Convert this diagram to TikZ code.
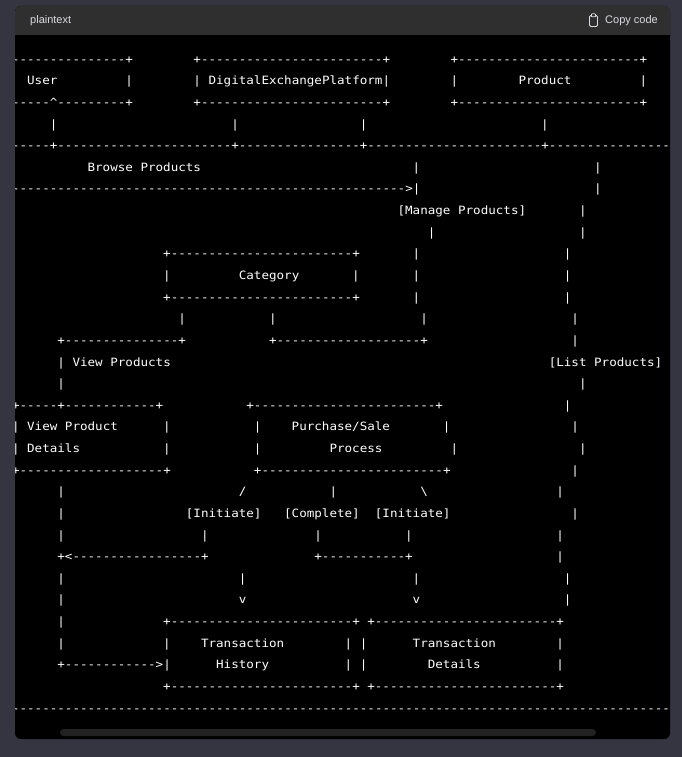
\documentclass[tikz,border=0pt]{standalone}
\usepackage{fontspec}
\setmainfont{Liberation Sans}
\setmonofont[FakeStretch=1.1]{DejaVu Sans Mono}

\definecolor{pagebg}{RGB}{52,53,65}
\definecolor{headbg}{RGB}{47,47,47}
\definecolor{headtext}{RGB}{217,217,227}
\definecolor{thumb}{RGB}{34,34,34}

% run of #1 copies of the character #2
\ExplSyntaxOn
\cs_new:Npn \chrun #1#2 { \prg_replicate:nn {#1} {#2} }
\ExplSyntaxOff

\tikzset{
  code/.style={font=\ttfamily\fontsize{11.42}{13}\selectfont, text=white,
    inner sep=0pt, anchor=base west},
  ui/.style={font=\fontsize{11}{13}\selectfont, text=headtext,
    inner sep=0pt, anchor=base west},
}
% text at row #1, character column #2
\newcommand\asc[3]{\node[code] (r#1c#2) at ({11.82+#2*7.56},{63.2+(#1-1)*21.63}) {#3};}

\begin{document}
\begin{tikzpicture}[x=1pt,y=-1pt]
\useasboundingbox (0,0) rectangle (682,757);
\fill[pagebg] (0,0) rectangle (682,757);

% code panel with its header bar
\fill[black, rounded corners=6] (15,6) rectangle (670,739);
\fill[headbg, rounded corners=6] (15,6) rectangle (670,42);
\fill[black] (15,35) rectangle (670,45);

\node[ui] (lang) at (30,24) {plaintext};
\node[ui] (copy) at (605,24) {Copy code};
\draw[headtext, line width=0.9, rounded corners=1.2] (589.5,15.5) rectangle (597.5,26.5);
\filldraw[draw=headtext, fill=headbg, line width=0.8, rounded corners=0.6] (591.5,13.8) rectangle (595.5,16.8);

% horizontal scrollbar thumb
\fill[thumb, rounded corners=3.5] (60,729) rectangle (596,736);

\begin{scope}
\clip (15,35) rectangle (670,739);
% row 1-3: User, DigitalExchangePlatform, Product
\asc{1}{0}{\chrun{15}{-}+}
\asc{1}{24}{+\chrun{24}{-}+}
\asc{1}{58}{+\chrun{24}{-}+}
\asc{2}{2}{User}
\asc{2}{15}{|}
\asc{2}{24}{| DigitalExchangePlatform|}
\asc{2}{58}{|}
\asc{2}{67}{Product}
\asc{2}{83}{|}
\asc{3}{0}{\chrun{5}{-}\textasciicircum\chrun{9}{-}+}
\asc{3}{24}{+\chrun{24}{-}+}
\asc{3}{58}{+\chrun{24}{-}+}
% row 4-9
\asc{4}{5}{|}
\asc{4}{29}{|}
\asc{4}{46}{|}
\asc{4}{70}{|}
\asc{5}{0}{\chrun{5}{-}+\chrun{23}{-}+\chrun{16}{-}+\chrun{23}{-}+\chrun{17}{-}}
\asc{6}{10}{Browse Products}
\asc{6}{53}{|}
\asc{6}{77}{|}
\asc{7}{0}{\chrun{52}{-}>|}
\asc{7}{77}{|}
\asc{8}{51}{[Manage Products]}
\asc{8}{75}{|}
\asc{9}{55}{|}
\asc{9}{75}{|}
% row 10-16: Category
\asc{10}{20}{+\chrun{24}{-}+}
\asc{10}{53}{|}
\asc{10}{73}{|}
\asc{11}{20}{|}
\asc{11}{30}{Category}
\asc{11}{45}{|}
\asc{11}{53}{|}
\asc{11}{73}{|}
\asc{12}{20}{+\chrun{24}{-}+}
\asc{12}{53}{|}
\asc{12}{73}{|}
\asc{13}{22}{|}
\asc{13}{34}{|}
\asc{13}{54}{|}
\asc{13}{74}{|}
\asc{14}{6}{+\chrun{15}{-}+}
\asc{14}{34}{+\chrun{19}{-}+}
\asc{14}{74}{|}
\asc{15}{6}{| View Products}
\asc{15}{71}{[List Products]}
\asc{16}{6}{|}
\asc{16}{75}{|}
% row 17-20: View Product Details, Purchase/Sale Process
\asc{17}{0}{+\chrun{5}{-}+\chrun{12}{-}+}
\asc{17}{31}{+\chrun{24}{-}+}
\asc{17}{73}{|}
\asc{18}{0}{| View Product}
\asc{18}{20}{|}
\asc{18}{32}{|}
\asc{18}{37}{Purchase/Sale}
\asc{18}{57}{|}
\asc{18}{74}{|}
\asc{19}{0}{| Details}
\asc{19}{20}{|}
\asc{19}{32}{|}
\asc{19}{42}{Process}
\asc{19}{58}{|}
\asc{19}{75}{|}
\asc{20}{0}{+\chrun{19}{-}+}
\asc{20}{32}{+\chrun{24}{-}+}
\asc{20}{74}{|}
% row 21-26: branches
\asc{21}{6}{|}
\asc{21}{30}{/}
\asc{21}{42}{|}
\asc{21}{54}{\textbackslash}
\asc{21}{72}{|}
\asc{22}{6}{|}
\asc{22}{23}{[Initiate]}
\asc{22}{36}{[Complete]}
\asc{22}{48}{[Initiate]}
\asc{22}{74}{|}
\asc{23}{6}{|}
\asc{23}{25}{|}
\asc{23}{40}{|}
\asc{23}{52}{|}
\asc{23}{72}{|}
\asc{24}{6}{+<\chrun{17}{-}+}
\asc{24}{40}{+\chrun{11}{-}+}
\asc{24}{72}{|}
\asc{25}{6}{|}
\asc{25}{30}{|}
\asc{25}{53}{|}
\asc{25}{73}{|}
\asc{26}{6}{|}
\asc{26}{30}{v}
\asc{26}{53}{v}
\asc{26}{73}{|}
% row 27-31: Transaction History, Transaction Details
\asc{27}{6}{|}
\asc{27}{20}{+\chrun{24}{-}+}
\asc{27}{47}{+\chrun{24}{-}+}
\asc{28}{6}{|}
\asc{28}{20}{|}
\asc{28}{25}{Transaction}
\asc{28}{44}{|}
\asc{28}{46}{|}
\asc{28}{53}{Transaction}
\asc{28}{72}{|}
\asc{29}{6}{+\chrun{12}{-}>|}
\asc{29}{27}{History}
\asc{29}{44}{|}
\asc{29}{46}{|}
\asc{29}{55}{Details}
\asc{29}{72}{|}
\asc{30}{20}{+\chrun{24}{-}+}
\asc{30}{47}{+\chrun{24}{-}+}
\asc{31}{0}{\chrun{88}{-}}
\end{scope}
\end{tikzpicture}
\end{document}
